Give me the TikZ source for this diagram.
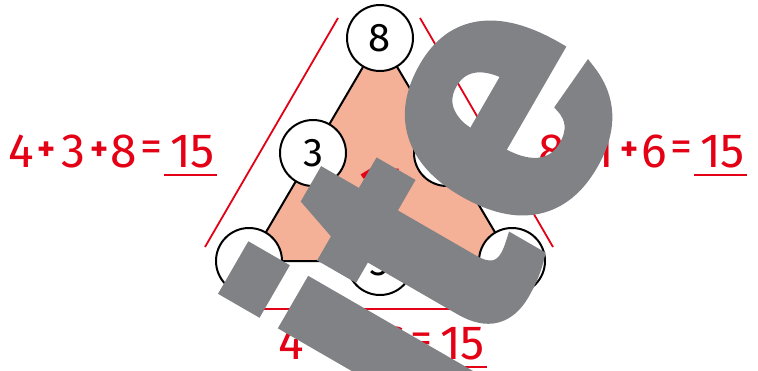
\documentclass[tikz,border=0pt]{standalone}
\usepackage{fontspec}
\setmainfont{Fira Sans}
\newfontfamily\wmfont{Liberation Sans}[BoldFeatures={FakeBold=3.5}]
\definecolor{eqred}{RGB}{228,0,21}
\definecolor{salmon}{RGB}{245,176,152}
\definecolor{wmgray}{RGB}{129,130,133}
\tikzset{
  numcirc/.style={circle, draw=black, line width=2pt, fill=white, minimum size=66pt, inner sep=0pt, font=\fontsize{40}{40}\selectfont},
  eqch/.style={text=eqred, inner sep=0pt, font=\fontsize{48}{48}\selectfont},
  eqplus/.style={text=eqred, inner sep=0pt, font=\bfseries\fontsize{34}{34}\selectfont},
  eqeq/.style={text=eqred, inner sep=0pt, font=\fontsize{44}{44}\selectfont},
  guide/.style={draw=eqred, line width=1.8pt},
  ulin/.style={draw=eqred, line width=2pt},
  tri/.style={fill=salmon, draw=black, line width=2pt, line join=round},
  midsum/.style={text=eqred, inner sep=0pt, font=\bfseries\fontsize{42}{42}\selectfont},
  wm/.style={text=wmgray, inner sep=0pt, anchor=base, rotate=60, font=\wmfont\bfseries\fontsize{352}{352}\selectfont},
}
\newcommand\eqrow[6]{%
  \begin{scope}[shift={(#2,#3)}]
    \node[eqch] (#1a) at (21.7,151.5) {#4};
    \node[eqplus] (#1p) at (46.5,151.5) {+};
    \node[eqch] (#1b) at (73.5,151.5) {#5};
    \node[eqplus] (#1q) at (100,151.5) {+};
    \node[eqch] (#1c) at (124,151.5) {#6};
    \node[eqeq] (#1e) at (151.5,151.5) {=};
    \node[eqch] (#1s) at (192.5,151.5) {15};
    \coordinate (#1u1) at (164,175);
    \coordinate (#1u2) at (217,175);
    \draw[ulin] (#1u1) -- (#1u2);
  \end{scope}}
\begin{document}
\begin{tikzpicture}[x=1pt,y=-1pt]
  \useasboundingbox[fill=white] (0,0) rectangle (758,370);
  % guide lines
  \coordinate (gL1) at (338,18);  \coordinate (gL2) at (205,247);
  \coordinate (gR1) at (420,18);  \coordinate (gR2) at (553,247);
  \coordinate (gB1) at (248,309); \coordinate (gB2) at (513,309);
  \draw[guide] (gL1) -- (gL2);
  \draw[guide] (gR1) -- (gR2);
  \draw[guide] (gB1) -- (gB2);
  % triangle
  \coordinate (vT) at (380,38);
  \coordinate (vL) at (249,261);
  \coordinate (vR) at (512,261);
  \draw[tri] (vT) -- (vL) -- (vR) -- cycle;
  \node[midsum] (mid) at (381,184) {15};
  % circles
  \node[numcirc] (c8) at (vT) {8};
  \node[numcirc] (c3) at (313,153) {3};
  \node[numcirc] (c1) at (447,153) {1};
  \node[numcirc] (c4) at (vL) {4};
  \node[numcirc] (c5) at (380,262) {5};
  \node[numcirc] (c6) at (vR) {6};
  % equations
  \eqrow{L}{0}{0}{4}{3}{8}
  \eqrow{R}{530}{0}{8}{1}{6}
  \eqrow{B}{270}{192}{4}{5}{6}
  % watermark
  \begin{scope}
    \clip (0,0) rectangle (758,370);
    \node[wm] (wi) at (459.5,398) {i};
    \node[wm] (wt) at (513.75,304.1) {t};
    \node[wm] (we) at (587.5,165) {e};
  \end{scope}
\end{tikzpicture}
\end{document}
